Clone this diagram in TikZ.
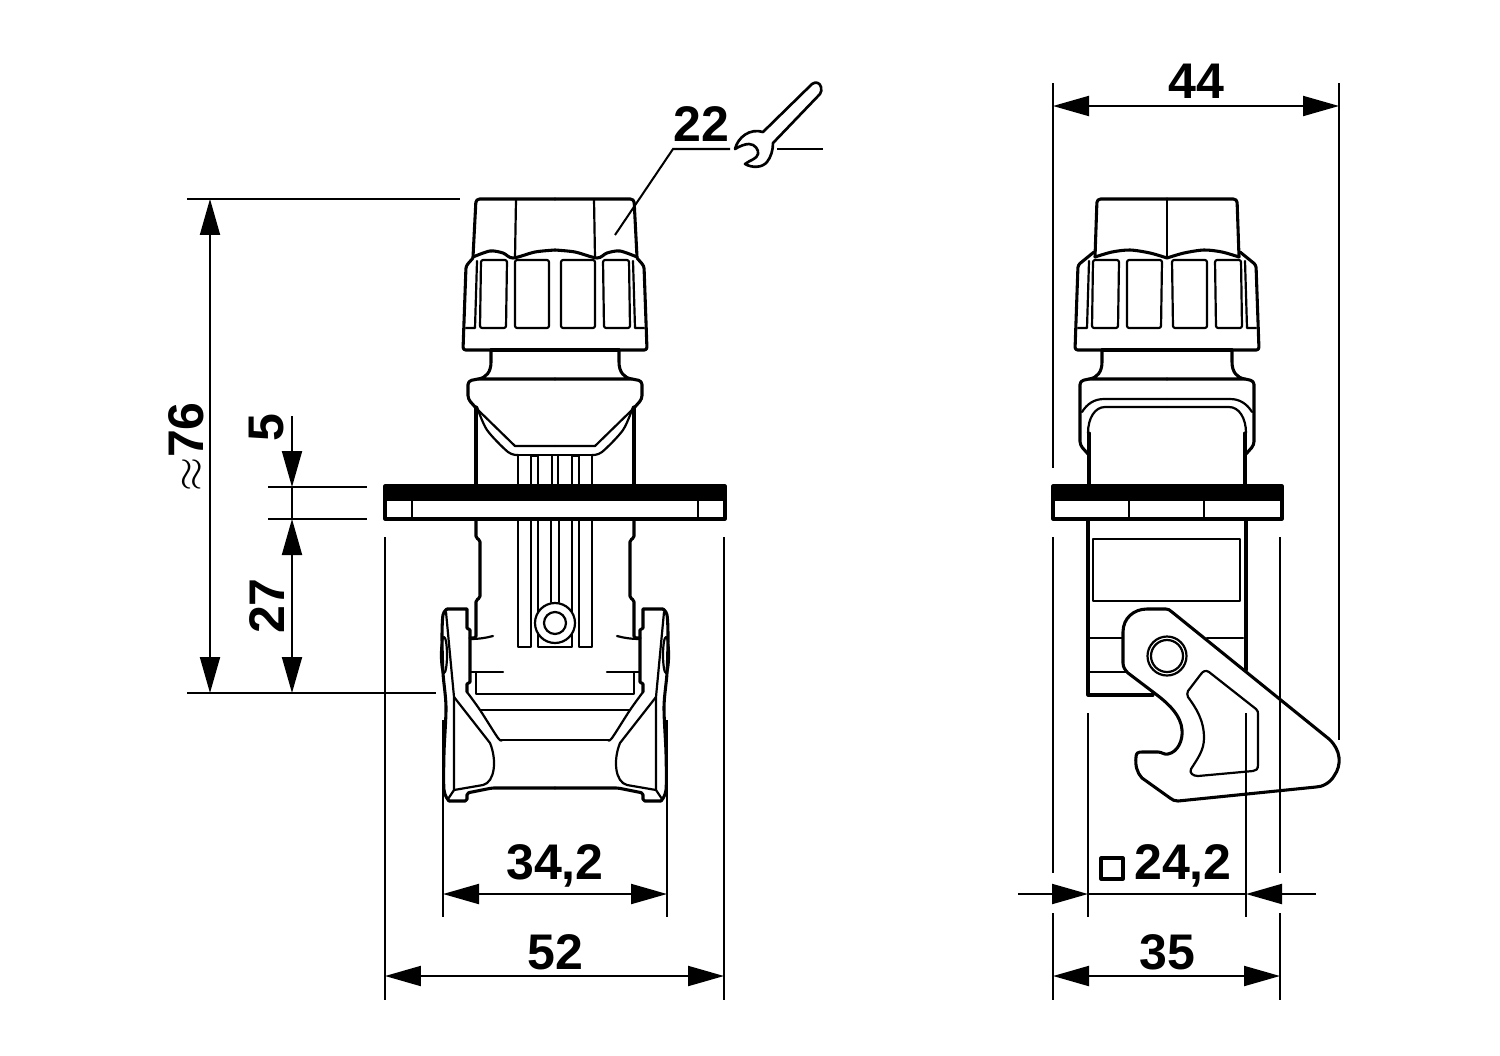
\documentclass[tikz,border=0pt]{standalone}
\usepackage{fontspec}
\setmainfont{Liberation Sans}
\usetikzlibrary{arrows.meta}
\tikzset{
  outl/.style={line width=1.75pt,line join=round,line cap=round},
  inln/.style={line width=1.25pt,line join=round,line cap=round},
  dimln/.style={line width=1.15pt},
  dimarr/.style={dimln,{Triangle[length=0.72cm,width=0.4cm]}-{Triangle[length=0.72cm,width=0.4cm]}},
  dimto/.style={dimln,-{Triangle[length=0.72cm,width=0.4cm]}},
  dimtxt/.style={font=\fontsize{28.5}{28.5}\selectfont\bfseries,inner sep=0pt},
  mirrored/.style={xscale=-1,xshift=-#1*0.02cm}
}
% one half of the front view, the other half is its mirror image
\newcommand{\fronthalf}{
  \draw[outl,rounded corners=2pt] (555,199) -- (476,199) -- (473,257);
  \draw[inln] (516,199) -- (515,258);
  \draw[outl] plot[smooth] coordinates {(473,257) (490,251) (503,253) (513,258) (535,252) (555,250)};
  \draw[outl,rounded corners=1.5pt] (473,258) -- (466,266) -- (463,350) -- (491,350);
  \draw[outl] (491,350) -- (555,350);
  \draw[inln,rounded corners=1.2pt] (480,328) -- (481,260) -- (507,260) -- (506,328) -- cycle;
  \draw[inln,rounded corners=1.2pt] (515,328) -- (515,260) -- (549,260) -- (549,328) -- cycle;
  \draw[inln] (477,261) -- (475,328) -- (466,328);
  \draw[outl] (491,350) -- (491,362) .. controls (491,372) and (486,378) .. (478,379) -- (555,379);
  \draw[outl,rounded corners=2pt] (478,379) -- (468,381) -- (468,399) -- (476,408);
  \draw[inln] (476,408) -- (515,446) -- (555,446);
  \draw[inln] plot[smooth] coordinates {(477,407) (487,430) (508,452) (518,455)};
  \draw[inln] (518,455) -- (555,455);
  \draw[outl] (476,407) -- (476,486);
  \draw[inln] (518,455) -- (518,486) (531,486) -- (531,456) -- (538,456) -- (538,486) (552,486) -- (552,456);
  \draw[outl,rounded corners=1pt] (476,519) -- (476,538) -- (480,540) -- (480,598) -- (476,600) -- (476,638) -- (470,638);
  \draw[inln] (470,639) .. controls (478,639) and (486,638) .. (493,636);
  \draw[inln] (470,672) -- (503,672);
  \draw[inln] (476,672) -- (476,694) -- (555,694);
  \draw[inln] (518,519) -- (518,647) -- (531,647) -- (531,519);
  \draw[inln] (538,519) -- (538,647) -- (555,647);
  \draw[inln] (551,519) -- (551,602);
  \draw[outl,rounded corners=1pt] (555,788) -- (492,788) -- (467,793) -- (467,801) -- (449,801);
  \draw[outl] plot[smooth] coordinates {(449,801) (444,790) (444,753) (446,707) (443,673) (442,637) (443,615) (447,609)};
  \draw[outl] (447,609) -- (467,609) -- (467,628) -- (470,630) -- (470,682) -- (467,684) -- (467,692);
  \draw[inln] plot[smooth] coordinates {(467,692) (480,710) (498,738) (502,740)};
  \draw[inln] (502,740) -- (555,740) (480,710) -- (555,710);
  \draw[inln] (446,612) -- (454,697) -- (454,790) -- (448,799);
  \draw[inln] (454,697) -- (490,743) .. controls (497,760) and (495,782) .. (483,785) -- (454,790);
  \draw[inln] (444,655) ellipse [x radius=3,y radius=18];
}
% one half of the side view
\newcommand{\sidehalf}{
  \draw[outl,rounded corners=2pt] (1167,199) -- (1097,199) -- (1095,257);
  \draw[outl] plot[smooth] coordinates {(1095,257) (1112,252) (1130,250) (1150,253) (1167,258)};
  \draw[outl,rounded corners=1.5pt] (1094,252) -- (1078,265) -- (1075,350) -- (1102,350);
  \draw[outl] (1102,350) -- (1167,350);
  \draw[inln,rounded corners=1.2pt] (1092,328) -- (1093,260) -- (1119,260) -- (1118,328) -- cycle;
  \draw[inln,rounded corners=1.2pt] (1127,328) -- (1127,260) -- (1162,260) -- (1161,328) -- cycle;
  \draw[inln] (1089,261) -- (1087,328) -- (1078,328);
  \draw[outl] (1102,350) -- (1102,362) .. controls (1102,372) and (1097,378) .. (1089,379) -- (1167,379);
  \draw[outl,rounded corners=2pt] (1089,379) -- (1080,381) -- (1080,445) -- (1088,454);
  \draw[inln] (1082,412) .. controls (1087,404) and (1094,399) .. (1104,399) -- (1167,399);
  \draw[inln] (1088,433) .. controls (1088,418) and (1095,407) .. (1105,407) -- (1167,407);
  \draw[outl] (1089,433) -- (1089,486);
  \draw[outl] (1088,519) -- (1088,636);
}
\begin{document}
\begin{tikzpicture}[x=0.02cm,y=-0.02cm]
\useasboundingbox (0,0) rectangle (1500,1055);
%front view
\fronthalf
\begin{scope}[mirrored=1110]
\fronthalf
\end{scope}
\fill (385,486) rectangle (725,501);
\draw[outl] (385,486) rectangle (725,519);
\draw[inln] (412,501) -- (412,519) (698,501) -- (698,519);
\draw[inln,fill=white] (555,623) circle (20);
\draw[inln] (555,623) circle (11);
%side view
\sidehalf
\begin{scope}[mirrored=2334]
\sidehalf
\end{scope}
\draw[inln] (1167,199) -- (1167,258);
\fill (1053,486) rectangle (1282,501);
\draw[outl] (1053,486) rectangle (1282,519);
\draw[inln] (1129,501) -- (1129,519) (1204,501) -- (1204,519);
\draw[inln] (1093,539) rectangle (1240,601);
\draw[outl] (1246,519) -- (1246,670);
\draw[outl] (1088,636) -- (1088,695) -- (1153,695);
\draw[inln] (1088,638) -- (1123,638) (1207,638) -- (1243,638);
\draw[inln] (1088,672) -- (1127,672) (1190,695) -- (1235,695);
%lever
\draw[outl,fill=white] (1123,632) .. controls (1123,618) and (1134,609) .. (1147,609) -- (1166,609)
  .. controls (1168,609) and (1170,610) .. (1172,612) -- (1329,739)
  .. controls (1341,750) and (1342,765) .. (1334,776) .. controls (1330,783) and (1322,787) .. (1316,787)
  -- (1178,801) .. controls (1175,801) and (1172,800) .. (1170,798) -- (1142,778)
  .. controls (1137,773) and (1135,765) .. (1136,757) .. controls (1136,753) and (1138,752) .. (1142,752)
  -- (1158,752) .. controls (1162,752) and (1164,755) .. (1168,754)
  .. controls (1178,752) and (1183,740) .. (1182,730) .. controls (1181,716) and (1170,705) .. (1157,695)
  -- (1128,673) .. controls (1125,670) and (1123,667) .. (1123,663) -- cycle;
\draw[inln] (1188,691) -- (1201,674) .. controls (1203,671) and (1206,670) .. (1209,672) -- (1256,709)
  .. controls (1258,711) and (1258,712) .. (1258,714) -- (1258,765)
  .. controls (1258,769) and (1256,771) .. (1253,771) -- (1198,776)
  .. controls (1193,776) and (1189,773) .. (1191,769) .. controls (1198,758) and (1204,750) .. (1204,738)
  .. controls (1204,720) and (1196,708) .. (1188,697) .. controls (1187,695) and (1187,693) .. (1188,691) -- cycle;
\draw[inln] (1167,656) circle (19.5);
\draw[inln] (1167,656) circle (16);
%wrench
\draw[outl,line width=1.5pt] (763,132) -- (812,84) .. controls (816,81) and (820,83) .. (821,87)
  .. controls (822,90) and (821,92) .. (820,94) -- (773,143)
  .. controls (773,150) and (771,157) .. (767,162) .. controls (762,168) and (752,168) .. (745,164)
  .. controls (750,160) and (757,159) .. (758,154) .. controls (759,150) and (755,144) .. (749,144)
  .. controls (745,144) and (740,146) .. (735,149)
  .. controls (738,137) and (750,128) .. (763,132) -- cycle;
\node[dimtxt] (wr) at (701,124) {22};
\coordinate (wa) at (615,235);
\coordinate (wb) at (673,149);
\coordinate (wc) at (730,149);
\draw[dimln] (wa) -- (wb) -- (wc);
\draw[dimln] (777,149) -- (823,149);
%dimensions
\draw[dimln] (187,199) -- (460,199) (187,693) -- (436,693);
\draw[dimln] (268,487) -- (367,487) (268,519) -- (367,519);
\coordinate (d76a) at (210,199);
\coordinate (d76b) at (210,693);
\draw[dimarr] (d76a) -- (d76b);
\node[dimtxt,rotate=90] (t76) at (186,447) {$\approx$76};
\coordinate (d5a) at (292,416);
\coordinate (d5b) at (292,487);
\coordinate (d5c) at (292,519);
\coordinate (d27) at (292,693);
\draw[dimto] (d5a) -- (d5b);
\draw[dimln] (d5b) -- (d5c);
\draw[dimarr] (d5c) -- (d27);
\node[dimtxt,rotate=90] (t5) at (267,428) {5};
\node[dimtxt,rotate=90] (t27) at (267,606) {27};
\draw[dimln] (443,720) -- (443,917) (667,720) -- (667,917);
\coordinate (d34a) at (443,894);
\coordinate (d34b) at (667,894);
\draw[dimarr] (d34a) -- (d34b);
\node[dimtxt] (t34) at (555,866) {34,2};
\draw[dimln] (385,537) -- (385,1000) (724,537) -- (724,1000);
\coordinate (d52a) at (385,976);
\coordinate (d52b) at (724,976);
\draw[dimarr] (d52a) -- (d52b);
\node[dimtxt] (t52) at (555,952) {52};
\draw[dimln] (1053,83) -- (1053,468) (1339,83) -- (1339,740);
\coordinate (d44a) at (1053,106);
\coordinate (d44b) at (1339,106);
\draw[dimarr] (d44a) -- (d44b);
\node[dimtxt] (t44) at (1196,81) {44};
\draw[dimln] (1053,537) -- (1053,873) (1053,913) -- (1053,1000);
\draw[dimln] (1280,537) -- (1280,873) (1280,913) -- (1280,1000);
\draw[dimln] (1088,713) -- (1088,917) (1246,713) -- (1246,917);
\coordinate (d24a) at (1018,894);
\coordinate (d24b) at (1088,894);
\coordinate (d24c) at (1246,894);
\coordinate (d24d) at (1316,894);
\draw[dimto] (d24a) -- (d24b);
\draw[dimto] (d24d) -- (d24c);
\draw[dimln] (d24b) -- (d24c);
\draw[outl] (1101,858) rectangle (1123,879);
\node[dimtxt] (t24) at (1183,866) {24,2};
\coordinate (d35a) at (1053,976);
\coordinate (d35b) at (1280,976);
\draw[dimarr] (d35a) -- (d35b);
\node[dimtxt] (t35) at (1167,952) {35};
\end{tikzpicture}
\end{document}
